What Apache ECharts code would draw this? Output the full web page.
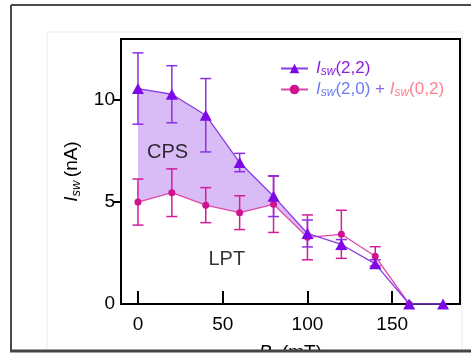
<!DOCTYPE html>
<html>
<head>
<meta charset="utf-8">
<script src="https://cdn.jsdelivr.net/npm/echarts@6/dist/echarts.min.js"></script>
<style>
  html, body { margin: 0; padding: 0; background: #fff; }
  #chart { width: 471px; height: 355px; }
</style>
</head>
<body>
<div id="chart"></div>
<script>
// field values (mT)
const fieldB = [0, 20, 40, 60, 80, 100, 120, 140, 160, 180];
// Isw(2,2) and its error bars (nA)
const isw22 = [10.57, 10.29, 9.26, 6.94, 5.29, 3.46, 2.92, 1.97, 0, 0];
const isw22Err = [1.75, 1.4, 1.8, 0.45, 1.0, 0.66, 0.24, 0.2, 0, 0];
// Isw(2,0) + Isw(0,2) and its error bars (nA)
const fieldSum = [0, 20, 40, 60, 80, 100, 120, 140, 160];
const iswSum = [5.0, 5.46, 4.85, 4.48, 4.89, 3.27, 3.42, 2.34, 0];
const iswSumErr = [1.13, 1.17, 0.86, 0.83, 1.38, 1.1, 1.18, 0.47, 0];
// shaded CPS band runs from the first point up to this many points
const bandCount = 6;
const xTicks = [0, 50, 100, 150];
const yTicks = [0, 5, 10];
const regionNames = ['CPS', 'LPT'];
const regionAt = [[17.5, 7.42], [52.4, 2.16]];

const PURPLE = '#7d0ae6';
const PURPLE_LINE = '#8a3ce8';
const MAGENTA = '#d0128f';
const MAGENTA_LINE = '#e048a8';
const FONT = '"Liberation Sans", Arial, sans-serif';

const chart = echarts.init(document.getElementById('chart'));

function errorBars(xs, ys, es, color) {
  return {
    type: 'custom',
    silent: true,
    data: xs.map((x, i) => [x, ys[i], es[i]]),
    encode: { x: 0, y: 1 },
    renderItem: (params, api) => {
      const x = api.value(0);
      const y = api.value(1);
      const e = api.value(2);
      if (!e) return null;
      const top = api.coord([x, y + e]);
      const bot = api.coord([x, y - e]);
      const w = 5.5;
      const style = { stroke: color, lineWidth: 1.5 };
      return {
        type: 'group',
        children: [
          { type: 'line', shape: { x1: top[0], y1: top[1], x2: bot[0], y2: bot[1] }, style },
          { type: 'line', shape: { x1: top[0] - w, y1: top[1], x2: top[0] + w, y2: top[1] }, style },
          { type: 'line', shape: { x1: bot[0] - w, y1: bot[1], x2: bot[0] + w, y2: bot[1] }, style },
        ],
      };
    },
    z: 3,
  };
}

const legendRich = {
  i: { fontStyle: 'italic', fontSize: 17, fontFamily: FONT },
  s: { fontStyle: 'italic', fontSize: 12, fontFamily: FONT, verticalAlign: 'bottom', padding: [7, 0, 0, 0] },
  t: { fontSize: 17, fontFamily: FONT },
};
function richSet(prefix, color) {
  const out = {};
  for (const k of Object.keys(legendRich)) {
    out[prefix + k] = Object.assign({}, legendRich[k], { color });
  }
  return out;
}
const rich = Object.assign(
  {},
  richSet('a', '#8a1fe0'),
  richSet('b', '#6c7cf2'),
  richSet('c', '#ff7f8e'),
  { plus: { fontSize: 17, fontFamily: FONT, color: '#8c6ae6' } },
);

chart.setOption({
  backgroundColor: '#fff',
  animation: false,
  grid: {
    left: 121, top: 39, width: 339, height: 265,
    outerBoundsMode: 'none',
    show: true, borderColor: '#000', borderWidth: 2,
  },
  legend: {
    data: ['Isw(2,2)', 'sum'],
    orient: 'vertical',
    left: 275,
    top: 55,
    itemWidth: 27,
    itemHeight: 12,
    itemGap: 3,
    selectedMode: false,
    formatter: (name) => name === 'sum'
      ? '{bi|I}{bs|sw}{bt|(2,0)}{plus| + }{ci|I}{cs|sw}{ct|(0,2)}'
      : '{ai|I}{as|sw}{at|(2,2)}',
    textStyle: { rich, padding: [0, 0, 0, 3] },
  },
  xAxis: {
    type: 'value',
    min: -10,
    max: 190,
    name: '{i|B}{s|∥} {t|(mT)}',
    nameLocation: 'middle',
    nameGap: 36,
    nameTextStyle: {
      rich: {
        i: { fontStyle: 'italic', fontSize: 19, fontFamily: FONT, color: '#000' },
        s: { fontSize: 13, fontFamily: FONT, color: '#000', padding: [12, 0, 0, 0] },
        t: { fontSize: 19, fontFamily: FONT, color: '#000' },
      },
    },
    axisLine: { onZero: false, lineStyle: { color: '#000', width: 2 } },
    axisTick: { inside: true, length: 13, lineStyle: { color: '#000', width: 2 }, customValues: xTicks },
    axisLabel: { customValues: xTicks, fontSize: 19, fontFamily: FONT, color: '#000', margin: 11 },
    splitLine: { show: false },
  },
  yAxis: {
    type: 'value',
    min: 0,
    max: 13,
    name: '{i|I}{s|sw} {t|(nA)}',
    nameLocation: 'middle',
    nameGap: 37,
    nameRotate: 90,
    nameTextStyle: {
      rich: {
        i: { fontStyle: 'italic', fontSize: 19, fontFamily: FONT, color: '#000' },
        s: { fontStyle: 'italic', fontSize: 13, fontFamily: FONT, color: '#000', padding: [9, 0, 0, 0] },
        t: { fontSize: 19, fontFamily: FONT, color: '#000' },
      },
    },
    axisLine: { onZero: false, lineStyle: { color: '#000', width: 2 } },
    axisTick: { length: 7, lineStyle: { color: '#000', width: 2 }, customValues: [5, 10] },
    axisLabel: { customValues: yTicks, fontSize: 19, fontFamily: FONT, color: '#000', margin: 6 },
    splitLine: { show: false },
  },
  series: [
    {
      // shaded band between the two curves
      type: 'custom',
      silent: true,
      data: [[fieldB[0], isw22[0]]],
      encode: { x: 0, y: 1 },
      renderItem: (params, api) => {
        const pts = [];
        for (let i = 0; i < bandCount; i++) pts.push(api.coord([fieldB[i], isw22[i]]));
        for (let i = bandCount - 1; i >= 0; i--) pts.push(api.coord([fieldSum[i], iswSum[i]]));
        return { type: 'polygon', shape: { points: pts }, style: { fill: '#d9bcf6' } };
      },
      z: 1,
    },
    errorBars(fieldSum, iswSum, iswSumErr, '#d41d9c'),
    {
      name: 'sum',
      type: 'line',
      data: fieldSum.map((x, i) => [x, iswSum[i]]),
      symbol: 'circle',
      symbolSize: 7,
      itemStyle: { color: MAGENTA },
      lineStyle: { color: MAGENTA_LINE, width: 1.3 },
      z: 4,
    },
    errorBars(fieldB, isw22, isw22Err, '#8b2ee6'),
    {
      name: 'Isw(2,2)',
      type: 'line',
      data: fieldB.map((x, i) => [x, isw22[i]]),
      symbol: 'triangle',
      symbolSize: [12, 11],
      itemStyle: { color: PURPLE },
      lineStyle: { color: PURPLE_LINE, width: 1.3 },
      z: 5,
    },
    {
      type: 'scatter',
      silent: true,
      symbolSize: 0,
      data: regionAt.map((p, i) => ({ value: p, name: regionNames[i] })),
      label: {
        show: true,
        position: 'inside',
        formatter: '{b}',
        fontSize: 20,
        fontFamily: FONT,
        color: '#000',
      },
      z: 6,
    },
  ],
  graphic: [
    {
      type: 'rect', silent: true, z: -1,
      shape: { x: 47, y: 32, width: 415, height: 320 },
      style: { fill: 'none', stroke: '#ececec', lineWidth: 1 },
    },
    {
      type: 'rect', silent: true, z: 100,
      shape: { x: 0, y: 352, width: 471, height: 3 },
      style: { fill: '#fff' },
    },
    {
      type: 'line', silent: true, z: 101,
      shape: { x1: 11, y1: 5, x2: 471, y2: 5 },
      style: { stroke: '#4a4a4a', lineWidth: 2 },
    },
    {
      type: 'line', silent: true, z: 101,
      shape: { x1: 11, y1: 5, x2: 11, y2: 352 },
      style: { stroke: '#4a4a4a', lineWidth: 2 },
    },
    {
      type: 'line', silent: true, z: 101,
      shape: { x1: 10, y1: 351, x2: 471, y2: 351 },
      style: { stroke: '#444', lineWidth: 3 },
    },
  ],
});
</script>
</body>
</html>
